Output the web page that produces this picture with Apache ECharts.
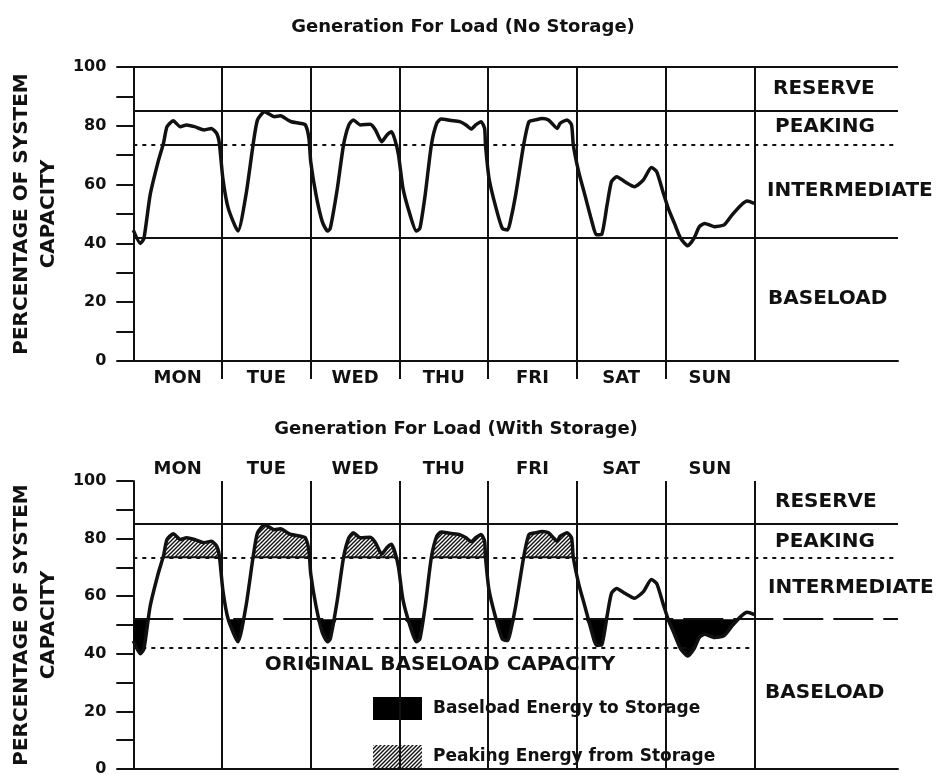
<!DOCTYPE html>
<html>
<head>
<meta charset="utf-8">
<script src="https://cdn.jsdelivr.net/npm/echarts@6/dist/echarts.min.js"></script>
<style>
html, body { margin: 0; padding: 0; background: #fff; }
#chart { width: 940px; height: 777px; }
</style>
</head>
<body>
<div id="chart"></div>
<script>
const dayNames = ['MON', 'TUE', 'WED', 'THU', 'FRI', 'SAT', 'SUN'];
const dayCenters = [0.5, 1.5, 2.5, 3.5, 4.5, 5.5, 6.5];
const dayBreaks = [1, 2, 3, 4, 5, 6];
const dayEdges = [1, 2, 3, 4, 5, 6, 7];
const yLabelValues = [0, 20, 40, 60, 80, 100];

// weekly load curve: x = days from Monday 00:00, y = % of system capacity
const loadDay = [
  0.00, 0.08, 0.12, 0.19, 0.28, 0.34, 0.38, 0.45, 0.53, 0.60, 0.69, 0.80, 0.88, 0.94, 0.97,
  1.01, 1.07, 1.18, 1.27, 1.35, 1.40, 1.48, 1.59, 1.66, 1.74, 1.78, 1.89, 1.94, 1.98,
  2.00, 2.06, 2.13, 2.19, 2.22, 2.30, 2.37, 2.43, 2.48, 2.56, 2.67, 2.73, 2.80, 2.86, 2.91, 2.95, 2.99,
  3.04, 3.12, 3.19, 3.23, 3.29, 3.36, 3.42, 3.47, 3.58, 3.68, 3.75, 3.81, 3.86, 3.92, 3.96, 3.97,
  4.01, 4.09, 4.16, 4.22, 4.25, 4.31, 4.40, 4.46, 4.53, 4.61, 4.68, 4.78, 4.81, 4.89, 4.94, 4.96,
  5.02, 5.09, 5.17, 5.22, 5.28, 5.34, 5.39, 5.45, 5.54, 5.65, 5.75, 5.84, 5.90, 5.97,
  6.03, 6.10, 6.17, 6.25, 6.32, 6.38, 6.44, 6.55, 6.66, 6.75, 6.85, 6.92, 7.00
];
const loadPct = [
  44.5, 40.0, 41.7, 56.5, 67.8, 74.0, 79.7, 81.7, 79.7, 80.3, 79.7, 78.6, 79.1, 77.4, 74.0,
  62.0, 52.0, 44.2, 56.5, 73.5, 82.0, 84.8, 83.1, 83.4, 82.0, 81.4, 80.8, 80.3, 75.7,
  67.8, 56.5, 47.4, 44.2, 45.1, 58.7, 73.5, 80.3, 82.0, 80.3, 80.5, 78.6, 74.6, 76.9, 78.0, 75.2, 70.0,
  58.7, 49.7, 44.2, 45.1, 56.5, 73.5, 80.8, 82.3, 81.8, 81.4, 80.3, 78.9, 80.3, 81.4, 79.1, 73.5,
  62.1, 51.9, 45.1, 44.6, 47.4, 56.5, 73.5, 81.4, 82.0, 82.5, 82.0, 79.1, 80.8, 82.0, 80.3, 73.5,
  64.4, 56.5, 47.4, 42.9, 43.1, 53.0, 61.0, 62.7, 61.0, 59.3, 61.6, 65.8, 64.4, 57.6,
  51.9, 46.8, 41.7, 39.2, 41.7, 45.7, 46.8, 45.7, 46.3, 49.7, 53.0, 54.4, 53.6
];

// band boundaries (% of capacity)
const reserveLevel = 85;
const peakingLevel = 73.5;
const baseloadLevel = 42;
const newBaseloadLevel = 52;
const bandNames = ['RESERVE', 'PEAKING', 'INTERMEDIATE', 'BASELOAD'];
const storageNames = ['Baseload Energy to Storage', 'Peaking Energy from Storage'];

const xMax = 8.62;
const ink = '#111';
const font = 'DejaVu Sans';

function hatchPattern() {
  const c = document.createElement('canvas');
  c.width = 4; c.height = 4;
  const g = c.getContext('2d');
  g.fillStyle = '#fff';
  g.fillRect(0, 0, 4, 4);
  g.strokeStyle = ink;
  g.lineWidth = 1.4;
  g.beginPath();
  g.moveTo(-1, 5); g.lineTo(5, -1);
  g.moveTo(-3, 3); g.lineTo(3, -3);
  g.moveTo(1, 7); g.lineTo(7, 1);
  g.stroke();
  return { image: c, repeat: 'repeat' };
}
const hatch = hatchPattern();

const curve = loadDay.map((d, i) => [d, loadPct[i]]);
const peakClip = loadDay.map((d, i) => [d, loadPct[i] >= peakingLevel ? peakingLevel : null]);
const toStorage = loadDay.map((d, i) => [d, Math.min(loadPct[i], newBaseloadLevel)]);
const fromStorage = loadDay.map((d, i) => [d, Math.max(loadPct[i], peakingLevel)]);

function hLine(y, x0, x1, style) {
  return [{ coord: [x0, y], lineStyle: style }, { coord: [x1, y] }];
}

function xAxisFor(gridIndex, position, margin) {
  return {
    type: 'value', gridIndex: gridIndex, position: position, min: 0, max: xMax,
    axisLine: { show: true, lineStyle: { color: ink, width: 2 } },
    axisTick: { show: true, customValues: dayBreaks, length: 18, lineStyle: { color: ink, width: 2 } },
    axisLabel: {
      customValues: dayCenters, margin: margin,
      formatter: v => dayNames[Math.floor(v)],
      color: ink, fontFamily: font, fontWeight: 'bold', fontSize: 18
    },
    splitLine: { show: false }
  };
}

function yAxisFor(gridIndex) {
  return {
    type: 'value', gridIndex: gridIndex, min: 0, max: 100, interval: 10,
    name: 'PERCENTAGE OF SYSTEM\nCAPACITY', nameLocation: 'middle', nameGap: 66,
    nameTextStyle: { color: ink, fontFamily: font, fontWeight: 'bold', fontSize: 20, lineHeight: 27, align: 'center' },
    axisLine: { show: true, lineStyle: { color: ink, width: 2 } },
    axisTick: { show: true, length: 17, lineStyle: { color: ink, width: 2 } },
    axisLabel: { customValues: yLabelValues, margin: 27, color: ink, fontFamily: font, fontWeight: 'bold', fontSize: 16 },
    splitLine: { show: false }
  };
}

const solid = { color: ink, width: 2, type: 'solid' };
const dotted = { color: ink, width: 2, type: [4, 5] };
const dashed = { color: ink, width: 2, type: [40, 10] };

function bandText(x, y, text) {
  return { type: 'text', x: x, y: y, style: { text: text, fill: ink, font: 'bold 20px "DejaVu Sans"', verticalAlign: 'middle' } };
}

const chart = echarts.init(document.getElementById('chart'));
chart.setOption({
  animation: false,
  backgroundColor: '#fff',
  title: [
    { text: 'Generation For Load (No Storage)', left: 458, top: 13, textAlign: 'center',
      textStyle: { color: ink, fontFamily: font, fontWeight: 'bold', fontSize: 18 } },
    { text: 'Generation For Load (With Storage)', left: 451, top: 415, textAlign: 'center',
      textStyle: { color: ink, fontFamily: font, fontWeight: 'bold', fontSize: 18 } }
  ],
  grid: [
    { left: 127, top: 67, width: 771, height: 294 },
    { left: 127, top: 481, width: 771, height: 291 }
  ],
  xAxis: [xAxisFor(0, 'bottom', 8), xAxisFor(1, 'top', 3)],
  yAxis: [yAxisFor(0), yAxisFor(1)],
  legend: {
    left: 368, top: 692, orient: 'vertical', icon: 'rect',
    itemWidth: 49, itemHeight: 23, itemGap: 25, selectedMode: false,
    textStyle: { color: ink, fontFamily: font, fontWeight: 'bold', fontSize: 17, padding: [0, 0, 0, 6] },
    data: [
      { name: storageNames[0], itemStyle: { color: '#000' } },
      { name: storageNames[1], itemStyle: { color: hatch } }
    ]
  },
  graphic: [
    bandText(773, 89, bandNames[0]),
    bandText(775, 127, bandNames[1]),
    bandText(767, 191, bandNames[2]),
    bandText(768, 299, bandNames[3]),
    bandText(775, 502, bandNames[0]),
    bandText(775, 542, bandNames[1]),
    bandText(768, 588, bandNames[2]),
    bandText(765, 693, bandNames[3]),
    { type: 'text', x: 440, y: 665,
      style: { text: 'ORIGINAL BASELOAD CAPACITY', fill: ink, font: 'bold 20px "DejaVu Sans"', align: 'center', verticalAlign: 'middle' } }
  ],
  series: [
    {
      type: 'line', xAxisIndex: 0, yAxisIndex: 0, data: curve, smooth: 0.2,
      showSymbol: false, silent: true, z: 5,
      lineStyle: { color: ink, width: 3.5 },
      markLine: {
        silent: true, symbol: 'none', label: { show: false }, lineStyle: solid,
        data: dayEdges.map(d => ({ xAxis: d, lineStyle: solid })).concat([
          hLine(100, 0, xMax, solid),
          hLine(reserveLevel, 0, xMax, solid),
          hLine(peakingLevel, 0, xMax, dotted),
          hLine(baseloadLevel, 0, xMax, solid)
        ])
      }
    },
    {
      type: 'line', xAxisIndex: 0, yAxisIndex: 0, data: peakClip, smooth: 0.2,
      showSymbol: false, silent: true, z: 4, connectNulls: false,
      lineStyle: { color: ink, width: 2 }
    },
    {
      name: storageNames[0], type: 'line', xAxisIndex: 1, yAxisIndex: 1, data: toStorage, smooth: 0.2,
      showSymbol: false, silent: true, z: 3,
      itemStyle: { color: '#000' },
      lineStyle: { width: 0, opacity: 0 },
      areaStyle: { color: '#000', opacity: 1, origin: newBaseloadLevel }
    },
    {
      name: storageNames[1], type: 'line', xAxisIndex: 1, yAxisIndex: 1, data: fromStorage, smooth: 0.2,
      showSymbol: false, silent: true, z: 3,
      itemStyle: { color: ink },
      lineStyle: { width: 0, opacity: 0 },
      areaStyle: { color: hatch, opacity: 1, origin: peakingLevel }
    },
    {
      type: 'line', xAxisIndex: 1, yAxisIndex: 1, data: peakClip, smooth: 0.2,
      showSymbol: false, silent: true, z: 4, connectNulls: false,
      lineStyle: { color: ink, width: 2 }
    },
    {
      type: 'line', xAxisIndex: 1, yAxisIndex: 1, data: curve, smooth: 0.2,
      showSymbol: false, silent: true, z: 5,
      lineStyle: { color: ink, width: 3.5 },
      markLine: {
        silent: true, symbol: 'none', label: { show: false }, lineStyle: solid,
        data: dayEdges.map(d => ({ xAxis: d, lineStyle: solid })).concat([
          hLine(0, 0, xMax, solid),
          hLine(reserveLevel, 0, xMax, solid),
          hLine(peakingLevel, 0, xMax, dotted),
          hLine(newBaseloadLevel, 0, xMax, dashed),
          hLine(baseloadLevel, 0, 7, dotted)
        ])
      }
    }
  ]
});
</script>
</body>
</html>
